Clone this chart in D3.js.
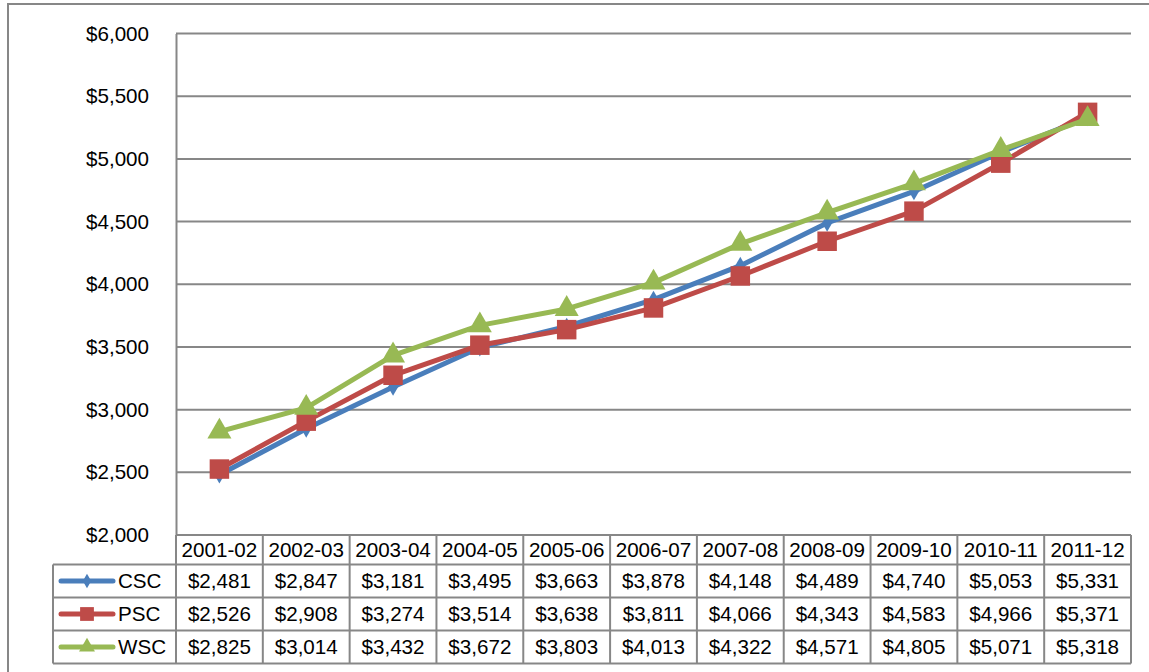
<!DOCTYPE html>
<html>
<head>
<meta charset="utf-8">
<script src="https://cdn.jsdelivr.net/npm/d3@7"></script>
<style>
  body { margin: 0; background: #fff; }
  svg { display: block; font-family: "Liberation Sans", Arial, sans-serif; }
</style>
</head>
<body>
<div id="chart"></div>
<script>
var years = ['2001-02', '2002-03', '2003-04', '2004-05', '2005-06', '2006-07',
             '2007-08', '2008-09', '2009-10', '2010-11', '2011-12'];
var cscValues = [2481, 2847, 3181, 3495, 3663, 3878, 4148, 4489, 4740, 5053, 5331];
var pscValues = [2526, 2908, 3274, 3514, 3638, 3811, 4066, 4343, 4583, 4966, 5371];
var wscValues = [2825, 3014, 3432, 3672, 3803, 4013, 4322, 4571, 4805, 5071, 5318];
var yTicks = [2000, 2500, 3000, 3500, 4000, 4500, 5000, 5500, 6000];

var seriesList = [
    { name: 'CSC', values: cscValues, color: '#4a7ebb', symbol: d3.symbolDiamond, size: 90, key: 60 },
    { name: 'PSC', values: pscValues, color: '#be4b48', symbol: d3.symbolSquare, size: 380, key: 190 },
    { name: 'WSC', values: wscValues, color: '#98b954', symbol: d3.symbolTriangle, size: 250, key: 110 }
];

var W = 1149, H = 672;
var plot = { left: 176, right: 1131, top: 33.5, bottom: 535 };
var headH = 29.5, rowH = 33;
var legendLeft = 53;
var gridColor = '#878787';
var fontSize = 20.6;

var svg = d3.select('#chart').append('svg')
    .attr('width', W)
    .attr('height', H);

// outer chart frame
svg.append('rect')
    .attr('x', 8).attr('y', 4)
    .attr('width', W + 20).attr('height', H + 20)
    .attr('fill', '#fff')
    .attr('stroke', gridColor)
    .attr('stroke-width', 2);

var x = d3.scaleBand().domain(years).range([plot.left, plot.right]);
var y = d3.scaleLinear().domain([2000, 6000]).range([plot.bottom, plot.top]);
var fmt = function(v) { return '$' + d3.format(',')(v); };

// gridlines
svg.append('g').selectAll('line')
    .data(yTicks.slice(1))
    .enter().append('line')
    .attr('x1', plot.left).attr('x2', plot.right)
    .attr('y1', function(d) { return y(d); })
    .attr('y2', function(d) { return y(d); })
    .attr('stroke', gridColor)
    .attr('stroke-width', 2);

// y axis
var yAxis = svg.append('g')
    .attr('transform', 'translate(' + plot.left + ',0)')
    .call(d3.axisLeft(y).tickValues(yTicks).tickFormat(fmt).tickSize(0).tickPadding(27));
yAxis.select('.domain').attr('stroke', gridColor).attr('stroke-width', 2);
yAxis.selectAll('text')
    .attr('font-size', fontSize)
    .attr('fill', '#000')
    .attr('font-family', '"Liberation Sans", Arial, sans-serif');

// data table
var table = svg.append('g');
var rowTop = function(i) { return i === 0 ? plot.bottom : plot.bottom + headH + rowH * (i - 1); };
var tableBottom = rowTop(4);

table.selectAll('.vline')
    .data(years)
    .enter().append('line')
    .attr('x1', function(d) { return x(d) + x.bandwidth(); })
    .attr('x2', function(d) { return x(d) + x.bandwidth(); })
    .attr('y1', plot.bottom)
    .attr('y2', tableBottom)
    .attr('stroke', gridColor)
    .attr('stroke-width', 2);

table.append('line')
    .attr('x1', plot.left).attr('x2', plot.left)
    .attr('y1', plot.bottom).attr('y2', tableBottom)
    .attr('stroke', gridColor).attr('stroke-width', 2);

table.append('line')
    .attr('x1', legendLeft).attr('x2', legendLeft)
    .attr('y1', rowTop(1)).attr('y2', tableBottom)
    .attr('stroke', gridColor).attr('stroke-width', 2);

[0, 1, 2, 3, 4].forEach(function(i) {
    table.append('line')
        .attr('x1', i === 0 ? plot.left : legendLeft)
        .attr('x2', plot.right)
        .attr('y1', rowTop(i))
        .attr('y2', rowTop(i))
        .attr('stroke', gridColor)
        .attr('stroke-width', 2);
});

// header labels
table.selectAll('.yr')
    .data(years)
    .enter().append('text')
    .attr('x', function(d) { return x(d) + x.bandwidth() / 2; })
    .attr('y', plot.bottom + headH / 2)
    .attr('dy', '0.36em')
    .attr('text-anchor', 'middle')
    .attr('font-size', fontSize)
    .text(function(d) { return d; });

seriesList.forEach(function(s, i) {
    var rowMid = rowTop(i + 1) + rowH / 2;
    var g = table.append('g');
    g.selectAll('text')
        .data(s.values)
        .enter().append('text')
        .attr('x', function(d, j) { return x(years[j]) + x.bandwidth() / 2; })
        .attr('y', rowMid)
        .attr('dy', '0.36em')
        .attr('text-anchor', 'middle')
        .attr('font-size', fontSize)
        .text(fmt);

    // legend key
    g.append('line')
        .attr('x1', 61).attr('x2', 113)
        .attr('y1', rowMid).attr('y2', rowMid)
        .attr('stroke', s.color)
        .attr('stroke-width', 5)
        .attr('stroke-linecap', 'round');
    g.append('path')
        .attr('d', d3.symbol().type(s.symbol).size(s.key)())
        .attr('transform', 'translate(87,' + rowMid + ')')
        .attr('fill', s.color);
    g.append('text')
        .attr('x', 118)
        .attr('y', rowMid)
        .attr('dy', '0.36em')
        .attr('font-size', fontSize)
        .text(s.name);
});

// lines and markers
var line = d3.line()
    .x(function(d, j) { return x(years[j]) + x.bandwidth() / 2; })
    .y(function(d) { return y(d); });

seriesList.forEach(function(s) {
    var g = svg.append('g');
    g.append('path')
        .datum(s.values)
        .attr('d', line)
        .attr('fill', 'none')
        .attr('stroke', s.color)
        .attr('stroke-width', 5)
        .attr('stroke-linejoin', 'round');
    g.selectAll('.mark')
        .data(s.values)
        .enter().append('path')
        .attr('d', d3.symbol().type(s.symbol).size(s.size)())
        .attr('transform', function(d, j) {
            return 'translate(' + (x(years[j]) + x.bandwidth() / 2) + ',' + y(d) + ')';
        })
        .attr('fill', s.color);
});
</script>
</body>
</html>
